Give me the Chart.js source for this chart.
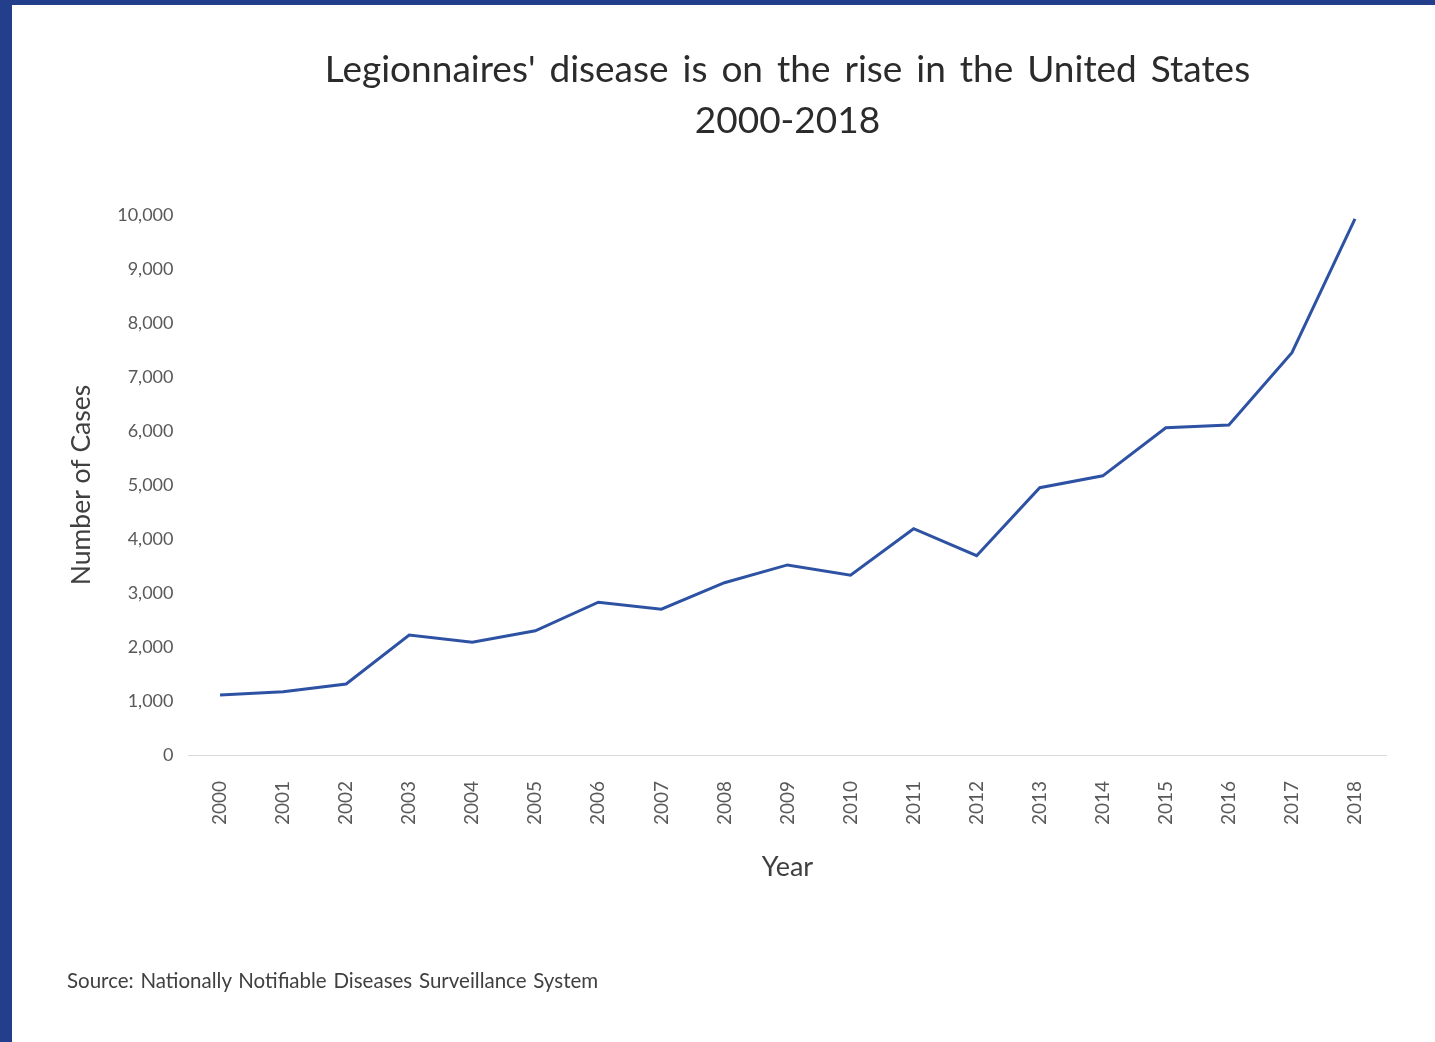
<!DOCTYPE html>
<html>
<head>
<meta charset="utf-8">
<script src="https://cdn.jsdelivr.net/npm/chart.js@4"></script>
<style>
  html, body { margin: 0; padding: 0; }
  body { width: 1435px; height: 1042px; background: #233e8b; position: relative; overflow: hidden; font-family: Lato, "Open Sans", sans-serif; }
  #panel { position: absolute; left: 12px; top: 5px; width: 1423px; height: 1037px; background: #ffffff; }
  #chartBox { position: absolute; left: 0; top: 0; width: 1423px; height: 1037px; }
  #title { position: absolute; left: 0; top: 37px; width: 1551px; text-align: center; font-size: 37px; line-height: 51px; word-spacing: 4.5px; color: #2b2b2b; }
  #source { position: absolute; left: 55px; top: 963px; font-size: 20.5px; word-spacing: 1.5px; color: #404040; white-space: nowrap; }
</style>
</head>
<body>
<div id="panel">
  <div id="chartBox"><canvas id="c"></canvas></div>
  <div id="title">Legionnaires' disease is on the rise in the United States<br>2000-2018</div>
  <div id="source">Source: Nationally Notifiable Diseases Surveillance System</div>
</div>
<script>
const years = ["2000","2001","2002","2003","2004","2005","2006","2007","2008","2009","2010","2011","2012","2013","2014","2015","2016","2017","2018"];
const cases = [1110, 1170, 1315, 2220, 2090, 2300, 2830, 2700, 3190, 3520, 3330, 4190, 3690, 4950, 5170, 6060, 6110, 7450, 9930];
const yTicks = [0, 1000, 2000, 3000, 4000, 5000, 6000, 7000, 8000, 9000, 10000];
const yAxisLabel = "Number of Cases";
const xAxisLabel = "Year";

const fontFam = 'Lato, "Open Sans", sans-serif';

new Chart(document.getElementById('c'), {
  type: 'line',
  data: {
    labels: years,
    datasets: [{
      data: cases,
      borderColor: '#2e52a3',
      borderWidth: 3,
      pointRadius: 0,
      tension: 0,
      fill: false
    }]
  },
  options: {
    responsive: true,
    maintainAspectRatio: false,
    animation: false,
    layout: { padding: { top: 210, right: 48.5, bottom: 157, left: 0 } },
    plugins: { legend: { display: false }, tooltip: { enabled: false }, title: { display: false } },
    scales: {
      x: {
        offset: true,
        grid: { display: false, drawTicks: false },
        border: { display: true, color: '#d9d9d9', width: 1 },
        ticks: {
          minRotation: 90, maxRotation: 90, padding: 26,
          color: '#595959', font: { family: fontFam, size: 19 }
        },
        title: { display: true, text: xAxisLabel, color: '#404040', font: { family: fontFam, size: 27 }, padding: { top: 0, bottom: 2 } },
        afterFit: (s) => { s.height = 130; }
      },
      y: {
        min: 0, max: 10000,
        afterBuildTicks: (s) => { s.ticks = yTicks.map(v => ({ value: v })); },
        grid: { display: false, drawTicks: false },
        border: { display: false },
        ticks: {
          padding: 15,
          color: '#595959', font: { family: fontFam, size: 18 },
          callback: (v) => v.toLocaleString('en-US')
        },
        title: { display: true, text: yAxisLabel, color: '#404040', font: { family: fontFam, size: 26.5 }, padding: { top: 54, bottom: 0 } },
        afterFit: (s) => { s.width = 176.5; }
      }
    }
  }
});
</script>
</body>
</html>
